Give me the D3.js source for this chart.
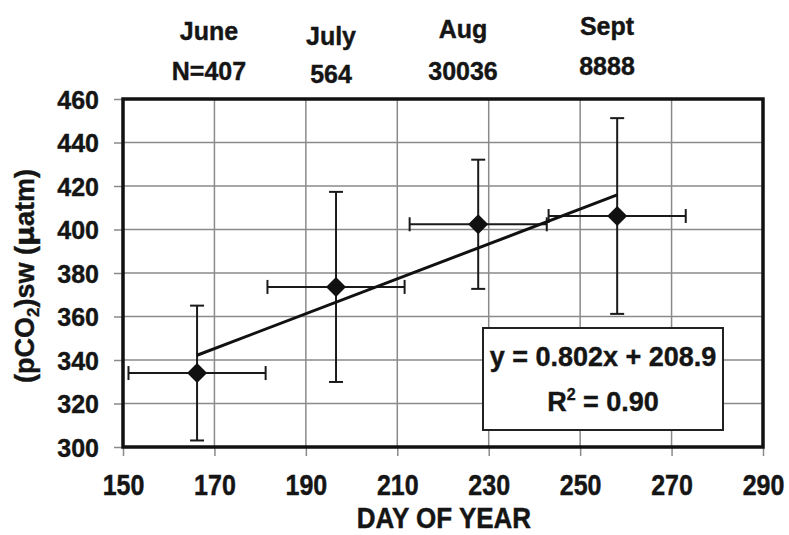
<!DOCTYPE html>
<html>
<head>
<meta charset="utf-8">
<script src="https://cdn.jsdelivr.net/npm/d3@7"></script>
<style>
  html, body { margin: 0; padding: 0; background: #fff; }
  svg { display: block; font-family: "Liberation Sans", Arial, sans-serif; font-weight: bold; }
</style>
</head>
<body>
<svg id="chart" width="789" height="535"></svg>
<script>
// Monthly mean seawater pCO2 against day of year
const months   = ["June", "July", "Aug", "Sept"];
const counts   = ["N=407", "564", "30036", "8888"];
const dayMean  = [166.2, 196.6, 227.7, 258.1];
const dayErr   = [15, 15, 15, 15];
const pco2Mean = [334.0, 373.6, 402.4, 406.2];
const pco2Err  = [31, 43.7, 29.7, 45];
const xTicks   = [150, 170, 190, 210, 230, 250, 270, 290];
const yTicks   = [300, 320, 340, 360, 380, 400, 420, 440, 460];
const fitSlope = 0.802, fitIntercept = 208.9, fitR2 = 0.90;

const W = 789, H = 535;
const m = { left: 123, right: 26, top: 99, bottom: 88 };
const svg = d3.select("#chart");

const x = d3.scaleLinear().domain([150, 290]).range([m.left, W - m.right]);
const y = d3.scaleLinear().domain([300, 460]).range([H - m.bottom, m.top]);

const gridColor = "#8a8a8a";
const textInk = "#151515";

// grid
svg.append("g").selectAll("line.vg")
  .data(xTicks.slice(1, -1)).join("line")
  .attr("x1", d => x(d)).attr("x2", d => x(d))
  .attr("y1", y(300)).attr("y2", y(460))
  .attr("stroke", gridColor).attr("stroke-width", 1.5);
svg.append("g").selectAll("line.hg")
  .data(yTicks.slice(1, -1)).join("line")
  .attr("x1", x(150)).attr("x2", x(290))
  .attr("y1", d => y(d)).attr("y2", d => y(d))
  .attr("stroke", gridColor).attr("stroke-width", 1.5);

// axes
const xAxis = svg.append("g")
  .attr("transform", `translate(0,${y(300)})`)
  .call(d3.axisBottom(x).tickValues(xTicks).tickSize(9).tickFormat(d3.format("d")));
xAxis.select(".domain").remove();
xAxis.selectAll(".tick line").attr("stroke", gridColor).attr("stroke-width", 1.5);
xAxis.selectAll(".tick text")
  .attr("fill", textInk).attr("font-size", 25).attr("font-weight", "bold")
  .attr("font-family", "Liberation Sans, Arial, sans-serif")
  .attr("stroke", textInk).attr("stroke-width", 0.4)
  .attr("dy", 0).attr("y", 48 / 1.16)
  .attr("transform", "scale(1,1.16)");

const yAxis = svg.append("g")
  .attr("transform", `translate(${x(150)},0)`)
  .call(d3.axisLeft(y).tickValues(yTicks).tickSize(9).tickPadding(15).tickFormat(d3.format("d")));
yAxis.select(".domain").remove();
yAxis.selectAll(".tick line").attr("stroke", gridColor).attr("stroke-width", 1.5);
yAxis.selectAll(".tick text")
  .attr("fill", textInk).attr("font-size", 25).attr("font-weight", "bold")
  .attr("font-family", "Liberation Sans, Arial, sans-serif")
  .attr("stroke", textInk).attr("stroke-width", 0.4)
  .attr("dy", "0.36em");

// frame
svg.append("rect")
  .attr("x", x(150)).attr("y", y(460))
  .attr("width", x(290) - x(150)).attr("height", y(300) - y(460))
  .attr("fill", "none").attr("stroke", "#111").attr("stroke-width", 3.5);

// error bars
const ink = "#1a1a1a";
const cap = 7;
const pts = months.map((mo, i) => ({ mo, dx: dayMean[i], ex: dayErr[i], py: pco2Mean[i], ey: pco2Err[i] }));
const eb = svg.append("g").attr("stroke", ink).attr("stroke-width", 2);
pts.forEach(p => {
  // vertical
  eb.append("line").attr("x1", x(p.dx)).attr("x2", x(p.dx))
    .attr("y1", y(p.py - p.ey)).attr("y2", y(p.py + p.ey));
  [p.py - p.ey, p.py + p.ey].forEach(v => eb.append("line")
    .attr("x1", x(p.dx) - cap).attr("x2", x(p.dx) + cap)
    .attr("y1", y(v)).attr("y2", y(v)));
  // horizontal
  eb.append("line").attr("x1", x(p.dx - p.ex)).attr("x2", x(p.dx + p.ex))
    .attr("y1", y(p.py)).attr("y2", y(p.py));
  [p.dx - p.ex, p.dx + p.ex].forEach(v => eb.append("line")
    .attr("x1", x(v)).attr("x2", x(v))
    .attr("y1", y(p.py) - cap).attr("y2", y(p.py) + cap));
});

// regression line across the data range
const x0 = d3.min(dayMean), x1 = d3.max(dayMean);
svg.append("line")
  .attr("x1", x(x0)).attr("y1", y(fitSlope * x0 + fitIntercept))
  .attr("x2", x(x1)).attr("y2", y(fitSlope * x1 + fitIntercept))
  .attr("stroke", "#111").attr("stroke-width", 3);

// markers
svg.append("g").selectAll("path")
  .data(pts).join("path")
  .attr("transform", p => `translate(${x(p.dx)},${y(p.py)})`)
  .attr("d", "M0,-10L10,0L0,10L-10,0Z")
  .attr("fill", "#111");

// equation box
const box = svg.append("g").attr("stroke-width", 0.4);
box.append("rect").attr("x", 483).attr("y", 328).attr("width", 240).attr("height", 102)
  .attr("fill", "#fff").attr("stroke", "#222").attr("stroke-width", 2);
box.append("text").attr("x", 603).attr("y", 366).attr("text-anchor", "middle")
  .attr("font-size", 27).attr("fill", textInk).attr("stroke", textInk)
  .text(`y = ${fitSlope.toFixed(3)}x + ${fitIntercept.toFixed(1)}`);
const r2 = box.append("text").attr("x", 603).attr("y", 411).attr("text-anchor", "middle")
  .attr("font-size", 27).attr("fill", textInk).attr("stroke", textInk);
r2.append("tspan").text("R");
r2.append("tspan").attr("font-size", 16).attr("dy", -11).text("2");
r2.append("tspan").attr("dy", 11).text(` = ${fitR2.toFixed(2)}`);

// month headers
const headX  = [209, 331, 463, 607];
const headY1 = [40, 45, 38, 35];
const headY2 = [80, 83, 80, 75];
const head = svg.append("g").attr("text-anchor", "middle").attr("font-size", 25)
  .attr("fill", textInk).attr("stroke", textInk).attr("stroke-width", 0.4);
months.forEach((mo, i) => {
  head.append("text").attr("x", headX[i]).attr("y", headY1[i]).text(mo);
  head.append("text").attr("x", headX[i]).attr("y", headY2[i]).text(counts[i]);
});

// axis titles
svg.append("text")
  .attr("x", 444).attr("y", 528 / 1.12).attr("text-anchor", "middle")
  .attr("transform", "scale(1,1.12)")
  .attr("font-size", 26).attr("fill", textInk).attr("stroke", textInk).attr("stroke-width", 0.4)
  .text("DAY OF YEAR");

const yt = svg.append("text")
  .attr("transform", "translate(34,276) rotate(-90)")
  .attr("text-anchor", "middle").attr("font-size", 27)
  .attr("fill", textInk).attr("stroke", textInk).attr("stroke-width", 0.4);
yt.append("tspan").text("(pCO");
yt.append("tspan").attr("font-size", 17).attr("dy", 5).text("2");
yt.append("tspan").attr("dy", -5).text(")sw (");
yt.append("tspan").attr("font-family", "DejaVu Sans").text("\u00b5");
yt.append("tspan").text("atm)");
</script>
</body>
</html>
